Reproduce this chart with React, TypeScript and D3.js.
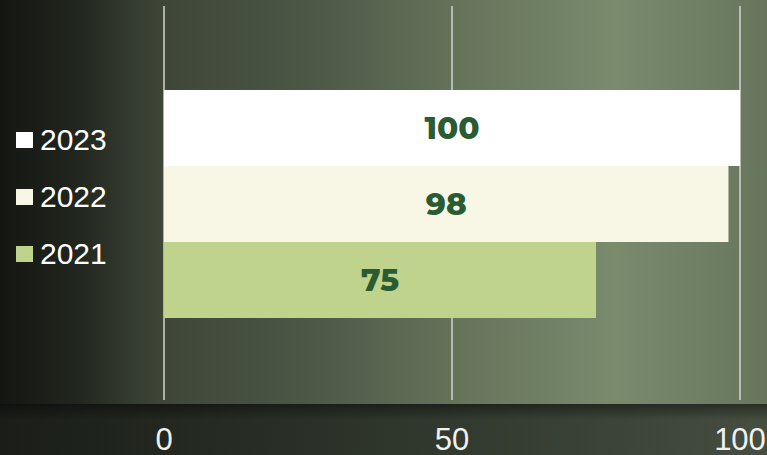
import React from 'react';
import * as d3 from 'd3';

const years = ['2023', '2022', '2021'];
const values = [100, 98, 75];
const barColors = ['#ffffff', '#f8f7e6', '#c0d38c'];
const ticks = [0, 50, 100];

const W = 767;
const H = 455;

const App = () => {
  const x = d3.scaleLinear().domain([0, 100]).range([164, 740]);
  const y = d3.scaleBand().domain(years).range([90, 318]).padding(0);
  const legendY = d3.scalePoint().domain(years).range([140, 254]);

  return (
    <svg
      width={W}
      height={H}
      style={{ position: 'absolute', left: 0, top: 0, display: 'block' }}
    >
      <defs>
        <linearGradient id="bg" x1="0" x2="1" y1="0" y2="0">
          <stop offset="0" stopColor="#141612" />
          <stop offset="0.1" stopColor="#21261e" />
          <stop offset="0.21" stopColor="#3e4638" />
          <stop offset="0.4" stopColor="#4c5746" />
          <stop offset="0.6" stopColor="#66745b" />
          <stop offset="0.8" stopColor="#798a6d" />
          <stop offset="0.9" stopColor="#718166" />
          <stop offset="1" stopColor="#66755c" />
        </linearGradient>
        <linearGradient id="band" x1="0" x2="1" y1="0" y2="0">
          <stop offset="0" stopColor="#1a1d18" />
          <stop offset="0.5" stopColor="#2e352b" />
          <stop offset="0.8" stopColor="#3b4437" />
          <stop offset="1" stopColor="#454e40" />
        </linearGradient>
        <linearGradient id="shadow" x1="0" x2="0" y1="0" y2="1">
          <stop offset="0" stopColor="#000" stopOpacity="0.4" />
          <stop offset="1" stopColor="#000" stopOpacity="0" />
        </linearGradient>
      </defs>

      <rect x={0} y={0} width={W} height={404} fill="url(#bg)" />
      <rect x={0} y={404} width={W} height={H - 404} fill="url(#band)" />
      <rect x={0} y={404} width={W} height={16} fill="url(#shadow)" />

      {/* grid */}
      {ticks.map(t => (
        <line
          key={t}
          x1={x(t)}
          x2={x(t)}
          y1={6}
          y2={400}
          stroke="#d4d4d0"
          strokeWidth={1.5}
        />
      ))}

      {/* bars */}
      {years.map((yr, i) => (
        <rect
          key={yr}
          x={x(0)}
          y={y(yr)}
          width={x(values[i]) - x(0)}
          height={y.bandwidth()}
          fill={barColors[i]}
        />
      ))}

      {/* value labels */}
      {years.map((yr, i) => (
        <text
          key={yr}
          x={(x(0) + x(values[i])) / 2}
          y={(y(yr) as number) + y.bandwidth() / 2 + 11}
          textAnchor="middle"
          fontFamily="Montserrat, 'DejaVu Sans', sans-serif"
          fontWeight={800}
          fontSize={31}
          fill="#2a5c34"
        >
          {values[i]}
        </text>
      ))}

      {/* legend */}
      {years.map((yr, i) => (
        <g key={yr} transform={`translate(16,${legendY(yr)})`}>
          <rect x={0} y={-8} width={17} height={16} fill={barColors[i]} />
          <text
            x={24}
            y={10}
            fontFamily="'Liberation Sans', Arial, sans-serif"
            fontSize={30}
            fill="#ffffff"
          >
            {yr}
          </text>
        </g>
      ))}

      {/* x axis labels */}
      {ticks.map(t => (
        <text
          key={t}
          x={x(t)}
          y={450}
          textAnchor="middle"
          fontFamily="'Liberation Sans', Arial, sans-serif"
          fontSize={31}
          fill="#f0f0ee"
        >
          {t}
        </text>
      ))}
    </svg>
  );
};

export default App;
